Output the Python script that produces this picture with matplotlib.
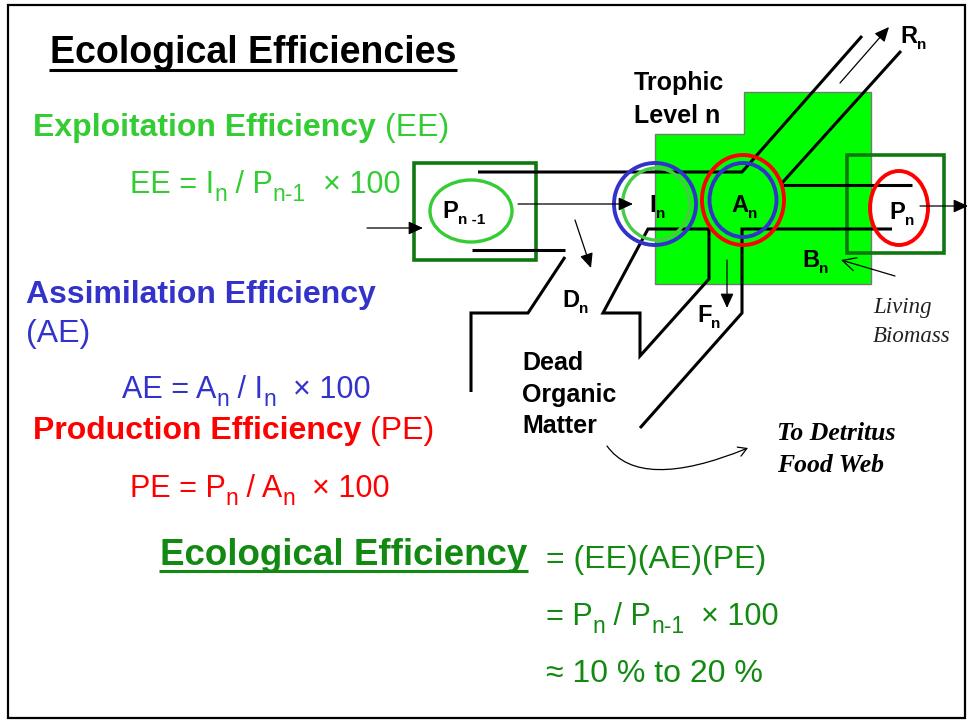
import matplotlib
matplotlib.use('Agg')
import matplotlib.pyplot as plt
from matplotlib.patches import Ellipse, Rectangle, Polygon, FancyArrowPatch
from matplotlib.path import Path
from matplotlib.font_manager import FontProperties

plt.rcParams['font.family'] = ['Liberation Sans', 'DejaVu Sans']

LIGHT = '#33cc33'
BLUE = '#3333cc'
RED = '#ff0000'
DARK = '#117711'
BOTTOM = '#128a12'
FILL = '#00ff00'

# text content
title = 'Ecological Efficiencies'
ee_name = ['Exploitation Efficiency ', '(EE)']
ae_name = ['Assimilation Efficiency', '(AE)']
pe_name = ['Production Efficiency ', '(PE)']
# formulas: (text, is_subscript)
ee_formula = [('EE = I', 0), ('n', 1), (' / P', 0), ('n-1', 1), ('  \u00d7 100', 0)]
ae_formula = [('AE = A', 0), ('n', 1), (' / I', 0), ('n', 1), ('  \u00d7 100', 0)]
pe_formula = [('PE = P', 0), ('n', 1), (' / A', 0), ('n', 1), ('  \u00d7 100', 0)]
eco_name = 'Ecological Efficiency'
eco_lines = [[('= (EE)(AE)(PE)', 0)],
             [('= P', 0), ('n', 1), (' / P', 0), ('n-1', 1), ('  \u00d7 100', 0)],
             [('\u2248 10 % to 20 %', 0)]]
# diagram labels: (symbol, subscript)
node_labels = [('P', 'n -1'), ('I', 'n'), ('A', 'n'), ('P', 'n')]
flow_labels = [('R', 'n'), ('D', 'n'), ('F', 'n'), ('B', 'n')]
trophic = ['Trophic', 'Level n']
dead = ['Dead', 'Organic', 'Matter']
living = ['Living', 'Biomass']
detritus = ['To Detritus', 'Food Web']

fig = plt.figure(figsize=(9.69, 7.23), dpi=100)
ax = fig.add_axes([0, 0, 1, 1])
ax.set_xlim(0, 969)
ax.set_ylim(723, 0)
ax.axis('off')
R = fig.canvas.get_renderer()


def adv(s, fp):
    w1 = R.get_text_width_height_descent(s + '|', fp, ismath=False)[0]
    w2 = R.get_text_width_height_descent('|', fp, ismath=False)[0]
    return w1 - w2


def rich(x, y, parts, size, color, weight='normal', family='Liberation Sans',
         style='normal', sub_scale=0.75, drop=0.27, z=6):
    for s, sub in parts:
        fs = size * sub_scale if sub else size
        yy = y + (size * 100 / 72 * drop if sub else 0)
        fp = FontProperties(family=family, size=fs, weight=weight, style=style)
        ax.text(x, yy, s, fontproperties=fp, color=color, va='baseline', ha='left', zorder=z)
        x += adv(s, fp)
    return x


def underline(x0, x1, y, color):
    ax.plot([x0, x1], [y, y], color=color, lw=2.2, solid_capstyle='butt', zorder=6)


# outer frame
ax.add_patch(Rectangle((8, 5), 957, 713, fill=False, ec='black', lw=1.6, zorder=1))

# title
x_end = rich(50, 63, [(title, 0)], 27, 'black', weight='bold')
underline(49, x_end + 1, 69.5, 'black')

# efficiency definitions
x = rich(33, 136, [(ee_name[0], 0)], 23, LIGHT, weight='bold')
rich(x, 136, [(ee_name[1], 0)], 23, LIGHT)
rich(130, 193, ee_formula, 22, LIGHT)

rich(26, 303, [(ae_name[0], 0)], 23, BLUE, weight='bold')
rich(26, 342, [(ae_name[1], 0)], 23, BLUE)
rich(122, 398, ae_formula, 22, BLUE)

x = rich(33, 439, [(pe_name[0], 0)], 23, RED, weight='bold')
rich(x, 439, [(pe_name[1], 0)], 23, RED)
rich(130, 497, pe_formula, 22, RED)

# ecological efficiency
x_end = rich(160, 565, [(eco_name, 0)], 26.5, BOTTOM, weight='bold')
underline(159, x_end + 1, 570.5, BOTTOM)
for line, yb, fs in zip(eco_lines, [568, 625, 682], [23, 22, 23]):
    rich(546, yb, line, fs, BOTTOM)

# ---- diagram ----
ax.add_patch(Polygon([(655, 134), (744, 134), (744, 92), (871, 92), (871, 284), (655, 284)],
                     closed=True, fc=FILL, ec='#777777', lw=1.0, zorder=1))

K = dict(color='black', lw=2.2, solid_capstyle='butt', solid_joinstyle='miter', zorder=3)
paths = [
    [(478, 172), (742, 172), (862, 36)],
    [(782, 183), (901, 51)],
    [(783, 185), (912, 185)],
    [(892, 229), (742, 229), (742, 313), (640, 428)],
    [(709, 229), (648, 229), (603, 313), (640, 313), (640, 356), (709, 279), (709, 229)],
    [(472, 250), (565, 250)],
    [(565, 257), (528, 313), (471, 313), (471, 392)],
]
for p in paths:
    ax.plot([q[0] for q in p], [q[1] for q in p], **K)

# boxes
ax.add_patch(Rectangle((414, 163), 122, 97, fill=False, ec=DARK, lw=2.6, zorder=2))
ax.add_patch(Rectangle((847, 155), 97, 98, fill=False, ec=DARK, lw=2.6, zorder=2))

# rings
ax.add_patch(Ellipse((471, 211), 82, 62, fill=False, ec=LIGHT, lw=2.4, zorder=4))
ax.add_patch(Ellipse((655, 204), 82, 82, fill=False, ec=BLUE, lw=2.8, zorder=4))
ax.add_patch(Ellipse((656, 204), 67, 72, fill=False, ec='#44cc44', lw=2.4, zorder=4))
ax.add_patch(Ellipse((743, 200), 82, 90, fill=False, ec=RED, lw=2.8, zorder=4))
ax.add_patch(Ellipse((743, 200), 67, 74, fill=False, ec=BLUE, lw=2.8, zorder=4))
ax.add_patch(Ellipse((899, 208), 58, 74, fill=False, ec=RED, lw=2.8, zorder=4))

# arrows
filled = [((367, 228), (423, 228)), ((518, 204), (633, 204)), ((575, 220), (591, 268)),
          ((727, 260), (727, 308)), ((840, 83), (889, 27)), ((920, 206), (968, 206))]
for a, b in filled:
    ax.annotate('', xy=b, xytext=a, zorder=5,
                arrowprops=dict(arrowstyle='-|>,head_length=0.55,head_width=0.25', lw=0.9,
                                color='black', mutation_scale=16, shrinkA=0, shrinkB=0))
ax.annotate('', xy=(841, 260), xytext=(895, 276), zorder=5,
            arrowprops=dict(arrowstyle='->,head_length=0.6,head_width=0.3', lw=0.9,
                            color='black', mutation_scale=16, shrinkA=0, shrinkB=0))
curve = Path([(607, 446), (640, 492), (748, 448)], [Path.MOVETO, Path.CURVE3, Path.CURVE3])
ax.add_patch(FancyArrowPatch(path=curve, arrowstyle='->,head_length=6,head_width=3.5',
                             lw=0.9, color='black', zorder=5))

# node labels
lab = dict(size=17, color='black', weight='bold', sub_scale=0.65, drop=0.26)
for (s, sub), (xx, yy) in zip(node_labels, [(442, 218), (649, 212), (731, 212), (889, 219)]):
    rich(xx, yy, [(s, 0), (sub, 1)], **lab)
for (s, sub), (xx, yy) in zip(flow_labels, [(900, 43), (562, 307), (697, 322), (802, 267)]):
    rich(xx, yy, [(s, 0), (sub, 1)], **lab)

for t, yy in zip(trophic, [90, 123]):
    rich(634, yy, [(t, 0)], 18, 'black', weight='bold')
for t, yy in zip(dead, [370, 402, 433]):
    rich(522, yy, [(t, 0)], 18, 'black', weight='bold')
for t, yy in zip(living, [313, 342]):
    rich(873, yy, [(t, 0)], 16.5, '#222222', family='Liberation Serif', style='italic')
for t, yy in zip(detritus, [440, 472]):
    rich(777, yy, [(t, 0)], 18.5, 'black', weight='bold', family='Liberation Serif', style='italic')

fig.savefig('out.png', dpi=100)
